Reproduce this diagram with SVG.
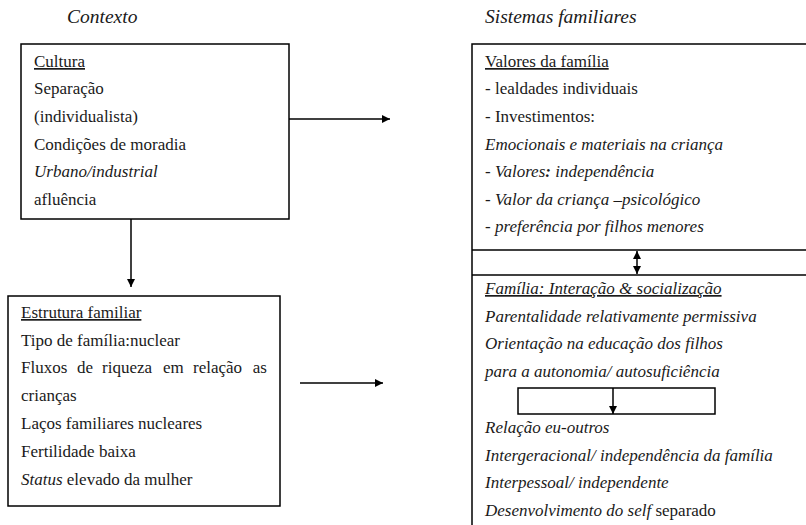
<svg xmlns="http://www.w3.org/2000/svg" width="806" height="525" viewBox="0 0 806 525" font-family="'Liberation Serif', 'DejaVu Serif', serif">
<defs>
<style>
text{font-family:'Liberation Serif','DejaVu Serif',serif;font-size:17px;fill:#1a1a1a}
.t{font-size:19.5px;font-style:italic}
.i{font-style:italic}
.u{text-decoration:underline}
.box{fill:#fff;stroke:#000;stroke-width:1.5}
.ln{stroke:#000;stroke-width:1.5;fill:none}
</style>
<marker id="ah" viewBox="0 0 10 10" refX="10" refY="5" markerWidth="8" markerHeight="8" markerUnits="userSpaceOnUse" orient="auto-start-reverse">
<path d="M0,0 L10,5 L0,10 z" fill="#000"/>
</marker>
</defs>
<rect width="806" height="525" fill="#fff"/>
<g id="titles">
<text class="t" x="67" y="23">Contexto</text>
<text class="t" x="485" y="23">Sistemas familiares</text>
</g>
<g id="cultura">
<rect class="box" x="21" y="44" width="268" height="175"/>
<text x="34" y="67" class="u">Cultura</text>
<text x="34" y="94">Separação</text>
<text x="34" y="122">(individualista)</text>
<text x="34" y="150">Condições de moradia</text>
<text x="34" y="177" class="i">Urbano/industrial</text>
<text x="34" y="205">afluência</text>
</g>
<g id="estrutura">
<rect class="box" x="8" y="296" width="272" height="210"/>
<text x="21" y="318" class="u">Estrutura familiar</text>
<text x="21" y="346">Tipo de família:nuclear</text>
<text y="373"><tspan x="21">Fluxos</tspan><tspan x="77">de</tspan><tspan x="102">riqueza</tspan><tspan x="163">em</tspan><tspan x="193">relação</tspan><tspan x="267" text-anchor="end">as</tspan></text>
<text x="21" y="401">crianças</text>
<text x="21" y="429">Laços familiares nucleares</text>
<text x="21" y="457">Fertilidade baixa</text>
<text x="21" y="485"><tspan class="i">Status</tspan> elevado da mulher</text>
</g>
<g id="sistemas">
<rect class="box" x="472" y="44" width="345" height="500"/>
<line class="ln" x1="472" y1="250" x2="810" y2="250"/>
<line class="ln" x1="472" y1="275" x2="810" y2="275"/>
<text x="485" y="67" class="u">Valores da família</text>
<text x="485" y="94">- lealdades individuais</text>
<text x="485" y="122">- Investimentos:</text>
<text x="485" y="150" class="i">Emocionais e materiais na criança</text>
<text x="485" y="177" class="i">- Valores<tspan font-weight="bold">:</tspan> independência</text>
<text x="485" y="205" class="i">- Valor da criança –psicológico</text>
<text x="485" y="232" class="i">- preferência por filhos menores</text>
<text x="485" y="294" class="i u">Família: Interação &amp; socialização</text>
<text x="485" y="322" class="i">Parentalidade relativamente permissiva</text>
<text x="485" y="349" class="i">Orientação na educação dos filhos</text>
<text x="485" y="377" class="i">para a autonomia/ autosuficiência</text>
<rect class="box" x="518" y="388" width="197" height="26"/>
<text x="485" y="433" class="i">Relação eu-outros</text>
<text x="485" y="461" class="i">Intergeracional/ independência da família</text>
<text x="485" y="488" class="i">Interpessoal/ independente</text>
<text x="485" y="516"><tspan class="i">Desenvolvimento do self</tspan> separado</text>
</g>
<g id="connectors">
<line class="ln" x1="289" y1="119" x2="390" y2="119" marker-end="url(#ah)"/>
<line class="ln" x1="131" y1="219" x2="131" y2="287" marker-end="url(#ah)"/>
<line class="ln" x1="300" y1="383" x2="383" y2="383" marker-end="url(#ah)"/>
<line class="ln" x1="637" y1="251" x2="637" y2="274" marker-start="url(#ah)" marker-end="url(#ah)"/>
<line class="ln" x1="613" y1="388" x2="613" y2="414" marker-end="url(#ah)"/>
</g>
</svg>
